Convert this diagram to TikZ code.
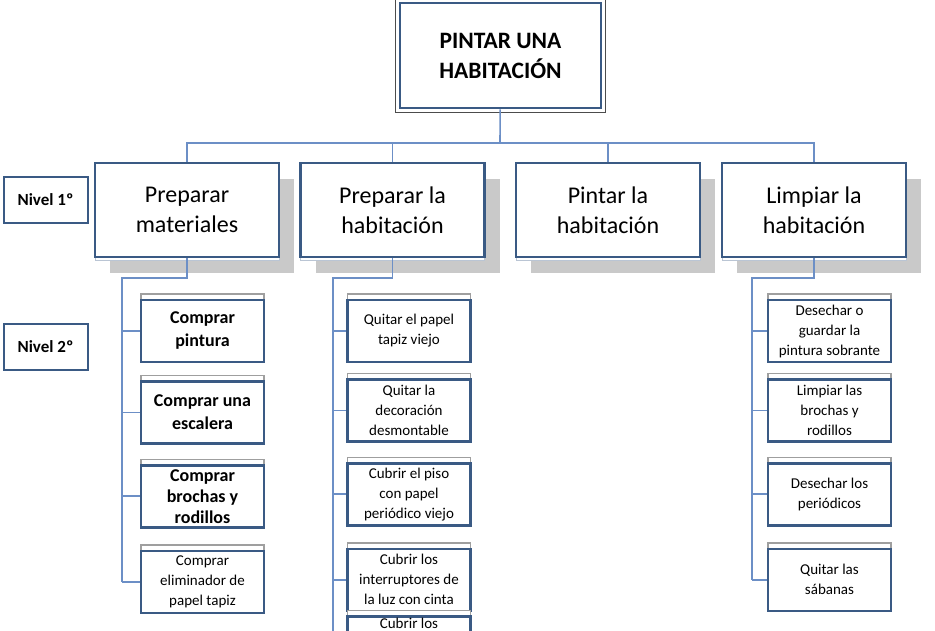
\documentclass[tikz,border=0pt]{standalone}
\usepackage{fontspec}
\setmainfont{Carlito}
\usetikzlibrary{positioning,shadows}

\definecolor{boxblue}{HTML}{3A5A84}
\definecolor{linkblue}{HTML}{6C8FC6}
\definecolor{shade}{HTML}{C9C9C9}

\tikzset{
  box/.style={draw=boxblue, line width=2.6pt, fill=white, align=center, inner sep=0pt},
  titlebox/.style={box, minimum width=201pt, minimum height=105pt, font=\fontsize{23.5}{30}\selectfont\bfseries},
  frame/.style={draw=gray!60!black, line width=1.3pt},
  stage/.style={box, minimum width=184pt, minimum height=94pt, font=\fontsize{24}{30}\selectfont,
    general shadow={fill=shade, shadow xshift=15pt, shadow yshift=-16pt},
    general shadow={draw=boxblue!35, fill=white, line width=1pt, shadow yshift=-3pt}},
  task/.style={box, minimum width=123pt, minimum height=62pt, font=\fontsize{15}{20}\selectfont,
    general shadow={draw=gray!75, fill=white, line width=1.4pt, shadow yshift=6pt}},
  buy/.style={font=\fontsize{18}{23}\selectfont\bfseries},
  tag/.style={box, line width=2pt, minimum width=84pt, minimum height=46pt, font=\fontsize{17}{20}\selectfont\bfseries},
  link/.style={draw=linkblue, line width=1.6pt},
}

\begin{document}
\begin{tikzpicture}[x=1pt, y=-1pt]
  \useasboundingbox (0,0) rectangle (935,630);
  \clip (0,0) rectangle (935,630);

  % top of the tree
  \node[titlebox] (paint) at (500.5,55.5) {PINTAR UNA\\HABITACIÓN};
  \draw[frame] ([shift={(-3pt,3pt)}]paint.north west) rectangle ([shift={(3pt,-3pt)}]paint.south east);

  % level 1
  \node[stage] (prep)      at (187,210)   {Preparar\\materiales};
  \node[stage] (room)      at (392.5,210) {Preparar la\\habitación};
  \node[stage] (paintroom) at (608,210)   {Pintar la\\habitación};
  \node[stage] (clean)     at (814,210)   {Limpiar la\\habitación};

  \node[tag] (lvl1) at (45.5,200)   {Nivel 1º};
  \node[tag] (lvl2) at (45.5,346.5) {Nivel 2º};

  % level 2
  \node[task, buy]                         (paintbuy) at (202.5,331) {Comprar\\pintura};
  \node[task, buy, below=17pt of paintbuy] (ladder)   {Comprar una\\escalera};
  \node[task, font=\fontsize{18}{21}\selectfont\bfseries, below=19pt of ladder] (brushes) {Comprar\\brochas y\\rodillos};
  \node[task, below=21pt of brushes]       (stripper) {Comprar\\eliminador de\\papel tapiz};

  \node[task]                            (strip) at (409,331) {Quitar el papel\\tapiz viejo};
  \node[task, below=15pt of strip]       (decor)    {Quitar la\\decoración\\desmontable};
  \node[task, below=19pt of decor]       (floor)    {Cubrir el piso\\con papel\\periódico viejo};
  \node[task, below=21pt of floor]       (switches) {Cubrir los\\interruptores de\\la luz con cinta};
  \node[task, text depth=49pt, below=3pt of switches] (cover) {Cubrir los};

  \node[task]                            (leftover) at (829.5,331) {Desechar o\\guardar la\\pintura sobrante};
  \node[task, below=15pt of leftover]    (wash)     {Limpiar las\\brochas y\\rodillos};
  \node[task, below=19pt of wash]        (papers)   {Desechar los\\periódicos};
  \node[task, below=21pt of papers]      (sheets)   {Quitar las\\sábanas};

  % connectors
  \coordinate (bus) at (500,143);
  \draw[link] (paint) -- (bus);
  \draw[link] (prep.north) |- (bus) -| (clean.north);
  \draw[link] (room.north) -- (room.north |- bus);
  \draw[link] (paintroom.north) -- (paintroom.north |- bus);

  \coordinate (t1) at (122,278);
  \draw[link] (prep.south) |- (t1) -- (t1 |- stripper.west);
  \draw[link] (t1 |- paintbuy.west) -- (paintbuy.west);
  \draw[link] (t1 |- ladder.west) -- (ladder.west);
  \draw[link] (t1 |- brushes.west) -- (brushes.west);
  \draw[link] (t1 |- stripper.west) -- (stripper.west);

  \coordinate (t2) at (333,278);
  \draw[link] (room.south) |- (t2) -- (t2 |- cover.west);
  \draw[link] (t2 |- strip.west) -- (strip.west);
  \draw[link] (t2 |- decor.west) -- (decor.west);
  \draw[link] (t2 |- floor.west) -- (floor.west);
  \draw[link] (t2 |- switches.west) -- (switches.west);
  \draw[link] (t2 |- cover.west) -- (cover.west);

  \coordinate (t4) at (752,278);
  \draw[link] (clean.south) |- (t4) -- (t4 |- sheets.west);
  \draw[link] (t4 |- leftover.west) -- (leftover.west);
  \draw[link] (t4 |- wash.west) -- (wash.west);
  \draw[link] (t4 |- papers.west) -- (papers.west);
  \draw[link] (t4 |- sheets.west) -- (sheets.west);
\end{tikzpicture}
\end{document}
